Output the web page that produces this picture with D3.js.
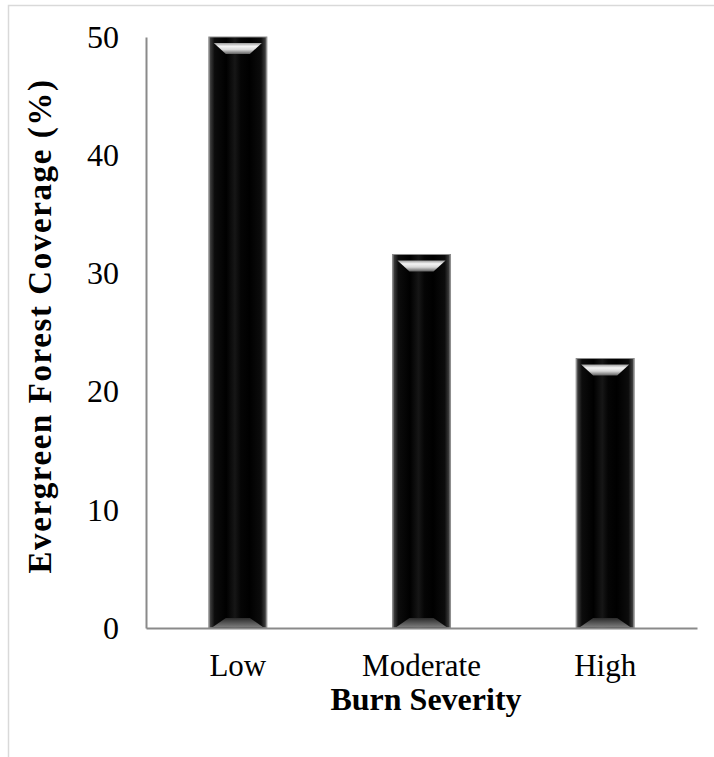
<!DOCTYPE html>
<html>
<head>
<meta charset="utf-8">
<style>
  body { margin: 0; background: #fff; }
  text { font-family: "Liberation Serif", "Times New Roman", serif; fill: #000; }
</style>
<script src="https://d3js.org/d3.v7.min.js"></script>
</head>
<body>
<svg width="714" height="757"></svg>
<script>

var categories = ["Low", "Moderate", "High"];
var coverage = [50, 31.6, 22.8];
var yTicks = [0, 10, 20, 30, 40, 50];

var data = categories.map(function(c, i) { return {cat: c, val: coverage[i]}; });

var svg = d3.select("svg");

// outer frame (light gray, only top and left visible)
svg.append("rect")
  .attr("x", 8.5).attr("y", 5.5)
  .attr("width", 740).attr("height", 780)
  .attr("fill", "none")
  .attr("stroke", "#d9d9d9")
  .attr("stroke-width", 1.5);

var x = d3.scaleBand().domain(categories).range([146, 697])
    .paddingInner(0.684).paddingOuter(0.342),
    y = d3.scaleLinear().domain([0, 50]).range([628, 37]);

var defs = svg.append("defs");

var body = defs.append("linearGradient").attr("id", "barBody")
  .attr("x1", 0).attr("x2", 1).attr("y1", 0).attr("y2", 0);
[[0, "#a0a0a0"], [0.03, "#3a3a3a"], [0.1, "#0c0c0c"], [0.3, "#000"], [0.45, "#161616"],
 [0.55, "#050505"], [0.7, "#000"], [0.9, "#0c0c0c"], [0.97, "#3a3a3a"], [1, "#a0a0a0"]]
  .forEach(function(s) { body.append("stop").attr("offset", s[0]).attr("stop-color", s[1]); });

var hi = defs.append("linearGradient").attr("id", "barHi")
  .attr("x1", 0).attr("x2", 0).attr("y1", 0).attr("y2", 1);
[[0, "#9a9a9a"], [0.3, "#f4f4f4"], [0.6, "#d8d8d8"], [1, "#606060"]]
  .forEach(function(s) { hi.append("stop").attr("offset", s[0]).attr("stop-color", s[1]); });

var lo = defs.append("linearGradient").attr("id", "barLo")
  .attr("x1", 0).attr("x2", 0).attr("y1", 0).attr("y2", 1);
[[0, "#2a2a2a"], [1, "#7a7a7a"]]
  .forEach(function(s) { lo.append("stop").attr("offset", s[0]).attr("stop-color", s[1]); });

var bw = x.bandwidth();

var bars = svg.selectAll(".bar")
  .data(data)
  .enter().append("g")
  .attr("class", "bar");

bars.append("rect")
  .attr("x", function(d) { return x(d.cat); })
  .attr("y", function(d) { return y(d.val); })
  .attr("width", bw)
  .attr("height", function(d) { return y(0) - y(d.val); })
  .attr("fill", "url(#barBody)")
  .attr("stroke", "#8c8c8c")
  .attr("stroke-width", 1);

// top highlight
bars.append("polygon")
  .attr("points", function(d) {
    var x0 = x(d.cat), t = y(d.val);
    return [[x0 + 5, t + 6], [x0 + bw - 5, t + 6], [x0 + bw - 17, t + 17], [x0 + 17, t + 17]].join(" ");
  })
  .attr("fill", "url(#barHi)");

// bottom bevel
bars.append("polygon")
  .attr("points", function(d) {
    var x0 = x(d.cat), b = y(0);
    return [[x0 + 17, b - 10], [x0 + bw - 17, b - 10], [x0 + bw - 4, b - 1], [x0 + 4, b - 1]].join(" ");
  })
  .attr("fill", "url(#barLo)");

// y axis
var gy = svg.append("g")
  .attr("transform", "translate(146,0)")
  .call(d3.axisLeft(y).tickValues(yTicks).tickSize(0).tickSizeOuter(0).tickPadding(27));
gy.select(".domain").attr("stroke", "#8a8a8a").attr("stroke-width", 2);
gy.selectAll("text").style("font-size", "32px").style("font-family", "Liberation Serif");

// x axis
var gx = svg.append("g")
  .attr("transform", "translate(0,628)")
  .call(d3.axisBottom(x).tickSize(0).tickSizeOuter(0).tickPadding(26));
gx.select(".domain").attr("stroke", "#8a8a8a").attr("stroke-width", 2);
gx.selectAll("text").style("font-size", "31px").style("font-family", "Liberation Serif");

svg.append("text")
  .attr("x", 426).attr("y", 710)
  .attr("text-anchor", "middle")
  .style("font-size", "32px")
  .style("font-weight", "bold")
  .text("Burn Severity");

svg.append("text")
  .attr("transform", "translate(51,326) rotate(-90)")
  .attr("text-anchor", "middle")
  .style("font-size", "33px")
  .style("font-weight", "bold")
  .style("letter-spacing", "1.6px")
  .text("Evergreen Forest Coverage (%)");

</script>
</body>
</html>
